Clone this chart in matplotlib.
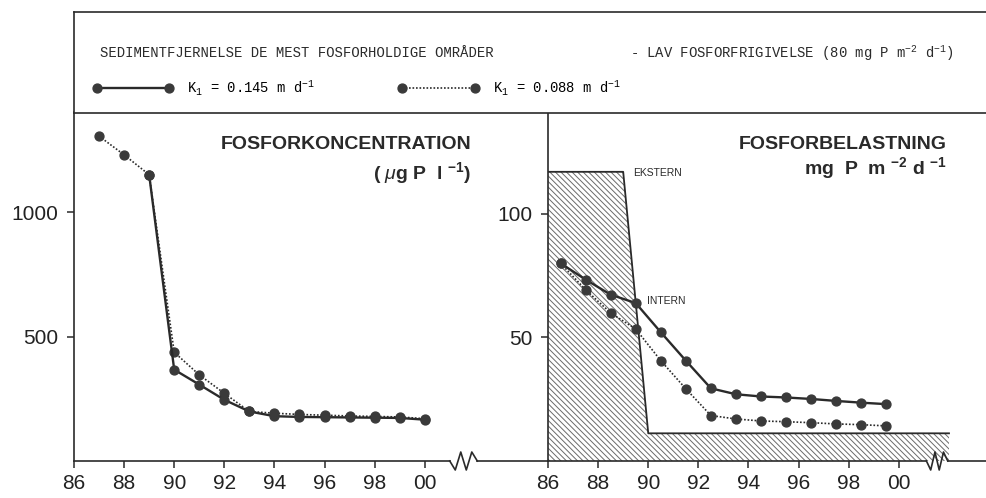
import numpy as np
import matplotlib
matplotlib.use("Agg")
import matplotlib.pyplot as plt
from matplotlib.transforms import blended_transform_factory

plt.rcParams['font.family'] = ['Liberation Sans', 'DejaVu Sans']
plt.rcParams['mathtext.fontset'] = 'custom'
plt.rcParams['mathtext.rm'] = 'Liberation Sans'
plt.rcParams['mathtext.it'] = 'Liberation Sans:italic'
plt.rcParams['mathtext.bf'] = 'Liberation Sans:bold'
plt.rcParams['mathtext.tt'] = 'Liberation Mono'
plt.rcParams['hatch.linewidth'] = 0.7

# ---- data ----
conc_years_k088 = [87, 88, 89, 90, 91, 92, 93, 94, 95, 96, 97, 98, 99, 100]
conc_k088 = [1305, 1230, 1150, 437, 346, 272, 199, 192, 187, 184, 181, 179, 177, 170]
conc_years_k145 = [89, 90, 91, 92, 93, 94, 95, 96, 97, 98, 99, 100]
conc_k145 = [1150, 367, 307, 246, 199, 180, 177, 176, 175, 174, 173, 166]

load_years = [86.5, 87.5, 88.5, 89.5, 90.5, 91.5, 92.5, 93.5, 94.5, 95.5, 96.5, 97.5, 98.5, 99.5]
intern_k145 = [80, 73.4, 67.3, 63.9, 52.1, 40.6, 29.4, 27.0, 26.1, 25.7, 25.1, 24.3, 23.6, 23.0]
intern_k088 = [80, 69.3, 59.9, 53.4, 40.6, 29.2, 18.4, 17.0, 16.2, 15.9, 15.5, 15.0, 14.7, 14.2]

ekstern_years = [86, 89, 90, 102]
ekstern_load = [117, 117, 11.2, 11.2]

year_ticks = [86, 88, 90, 92, 94, 96, 98, 100]
year_labels = ['86', '88', '90', '92', '94', '96', '98', '00']
conc_ticks = [500, 1000]
load_ticks = [50, 100]

# ---- styling ----
INK = '#2a2a2a'
DOT = '#3a3a3a'
W, H = 986, 498
solid_kw = dict(color=INK, lw=1.7, ls='-', marker='o', ms=6.4, mfc=DOT, mec=DOT, zorder=4)
dotted_kw = dict(color=INK, lw=1.2, ls=(0, (1, 1.1)), marker='o', ms=6.4, mfc=DOT, mec=DOT, zorder=4)

fig = plt.figure(figsize=(W / 100, H / 100), dpi=100)
fig.patch.set_facecolor('white')

x_left, x_div, x_right = 74, 548, 986
y_top_head, y_top, y_bot = 12, 112.5, 461
ax_h = (y_bot - y_top) / H
ax_b = (H - y_bot) / H

axL = fig.add_axes([x_left / W, ax_b, (x_div - x_left) / W, ax_h])
axR = fig.add_axes([x_div / W, ax_b, (x_right - x_div) / W + 0.01, ax_h])
axH = fig.add_axes([x_left / W, (H - y_top) / H, (x_right - x_left) / W + 0.01, (y_top - y_top_head) / H])

px_per_year_L = 25.05
px_per_year_R = 25.07
axL.set_xlim(86, 86 + (x_div - x_left) / px_per_year_L)
axR.set_xlim(86, 86 + (x_right - x_div + 10) / px_per_year_R)
axL.set_ylim(0, 1400)
axR.set_ylim(0, 141)

for ax in (axL, axR):
    ax.set_facecolor('none')
    for s in ('top', 'right', 'bottom'):
        ax.spines[s].set_visible(False)
    ax.spines['left'].set_linewidth(1.2)
    ax.spines['left'].set_color(INK)
    ax.set_xticks(year_ticks)
    ax.set_xticklabels(year_labels)
    ax.tick_params(axis='both', direction='out', length=5, width=1.1, color=INK,
                   labelsize=15, labelcolor='#222222')
    ax.tick_params(axis='x', pad=4)
    ax.tick_params(axis='y', pad=6)

axL.set_yticks(conc_ticks)
axL.set_yticklabels([str(v) for v in conc_ticks])
axR.set_yticks(load_ticks)
axR.set_yticklabels([str(v) for v in load_ticks])


def broken_axis(ax, x_break0, x_break1, amp_px=9):
    """Bottom axis line with a zig-zag break mark."""
    tr = blended_transform_factory(ax.transData, ax.transAxes)
    h_px = ax.get_position().height * H
    a = amp_px / h_px
    x0, x1 = ax.get_xlim()
    zx = np.linspace(x_break0, x_break1, 6)
    zy = [0, -a, a, -a, a, 0]
    ax.plot([x0, x_break0], [0, 0], transform=tr, color=INK, lw=1.2, clip_on=False, zorder=5)
    ax.plot(zx, zy, transform=tr, color=INK, lw=1.2, clip_on=False, zorder=5)
    ax.plot([x_break1, x1], [0, 0], transform=tr, color=INK, lw=1.2, clip_on=False, zorder=5)


broken_axis(axL, 101.0, 102.1)
broken_axis(axR, 101.1, 101.95)

# ---- left panel: concentration ----
axL.plot(conc_years_k088, conc_k088, **dotted_kw)
axL.plot(conc_years_k145, conc_k145, **solid_kw)
axL.text(0.838, 0.895, 'FOSFORKONCENTRATION', transform=axL.transAxes, ha='right',
         va='baseline', fontsize=14, fontweight='bold', color='#2a2a2a')
axL.text(0.838, 0.81, r'( $\mu$g P  l $^{\mathbf{-1}}$)', transform=axL.transAxes, ha='right',
         va='baseline', fontsize=14, fontweight='bold', color='#2a2a2a')

# ---- right panel: loading ----
axR.fill_between(ekstern_years, 0, ekstern_load, facecolor='white', edgecolor='#6a6a6a',
                 hatch='\\' * 6, linewidth=0, zorder=1)
axR.plot(ekstern_years, ekstern_load, color=INK, lw=1.3, zorder=2)
lineR145, = axR.plot(load_years, intern_k145, **solid_kw)
lineR088, = axR.plot(load_years, intern_k088, **dotted_kw)
axR.text(0.891, 0.895, 'FOSFORBELASTNING', transform=axR.transAxes, ha='right',
         va='baseline', fontsize=14, fontweight='bold', color='#2a2a2a')
axR.text(0.891, 0.824, r'mg  P  m $^{\mathbf{-2}}$ d $^{\mathbf{-1}}$', transform=axR.transAxes,
         ha='right', va='baseline', fontsize=14, fontweight='bold', color='#2a2a2a')
axR.text(0.189, 0.826, 'EKSTERN', transform=axR.transAxes, ha='left', va='center',
         fontsize=7.5, color='#2a2a2a')
axR.text(0.222, 0.458, 'INTERN', transform=axR.transAxes, ha='left', va='center',
         fontsize=7.5, color='#2a2a2a')

# ---- header box ----
axH.set_xlim(0, 1)
axH.set_ylim(0, 1)
axH.set_xticks([])
axH.set_yticks([])
axH.spines['right'].set_visible(False)
for s in ('top', 'left', 'bottom'):
    axH.spines[s].set_linewidth(1.2)
    axH.spines[s].set_color(INK)

mono = dict(family='Liberation Mono', fontsize=10, color='#2a2a2a')
axH.text(0.028, 0.59, 'SEDIMENTFJERNELSE DE MEST FOSFORHOLDIGE OMRÅDER', ha='left',
         va='center', **mono)
axH.text(0.603, 0.59, r'- LAV FOSFORFRIGIVELSE (80 mg P m$^{\mathtt{-2}}$ d$^{\mathtt{-1}}$)',
         ha='left', va='center', **mono)
axH.legend([lineR145, lineR088],
           [r'K$_{\mathtt{1}}$ = 0.145 m d$^{\mathtt{-1}}$',
            r'K$_{\mathtt{1}}$ = 0.088 m d$^{\mathtt{-1}}$'],
           loc='center left', bbox_to_anchor=(0.02, 0.25), ncol=2, frameon=False,
           numpoints=2, handlelength=5.8, handletextpad=1.0, columnspacing=6.0,
           borderaxespad=0, borderpad=0,
           prop=dict(family='Liberation Mono', size=10))

fig.savefig('out.png', dpi=100, facecolor='white')
